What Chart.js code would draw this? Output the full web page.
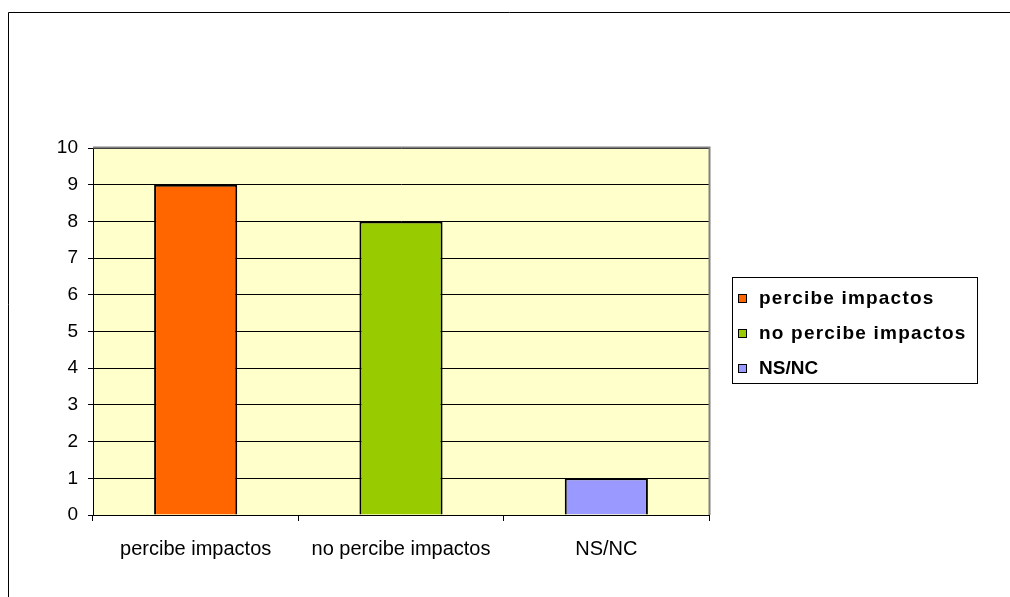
<!DOCTYPE html>
<html>
<head>
<meta charset="utf-8">
<script src="https://cdn.jsdelivr.net/npm/chart.js@4/dist/chart.umd.min.js"></script>
<style>
  html, body { margin: 0; padding: 0; background: #fff; }
  #wrap { width: 1010px; height: 597px; position: relative; }
</style>
</head>
<body>
<div id="wrap"><canvas id="chart" width="1010" height="597"></canvas></div>
<script>
// datos del gráfico
const categories = ['percibe impactos', 'no percibe impactos', 'NS/NC'];
const values = [9, 8, 1];
const barColors = ['#FF6600', '#99CC00', '#9999FF'];
const yTicks = [0, 1, 2, 3, 4, 5, 6, 7, 8, 9, 10];

// fondo amarillo y marcos
const frame = {
  id: 'frame',
  beforeDraw(chart) {
    const { ctx, chartArea: a } = chart;
    ctx.save();
    ctx.fillStyle = '#FFFFCC';
    ctx.fillRect(a.left, a.top, a.right - a.left, a.bottom - a.top);
    // borde exterior (solo arriba e izquierda se ven)
    ctx.strokeStyle = '#000';
    ctx.lineWidth = 1;
    ctx.beginPath();
    ctx.moveTo(8.5, 597);
    ctx.lineTo(8.5, 12.5);
    ctx.lineTo(1010, 12.5);
    ctx.stroke();
    ctx.restore();
  },
  afterDatasetsDraw(chart) {
    const { ctx, chartArea: a } = chart;
    ctx.save();
    ctx.strokeStyle = '#808080';
    ctx.lineWidth = 2;
    ctx.beginPath();
    ctx.moveTo(a.left, a.top - 0.5);
    ctx.lineTo(a.right + 0.5, a.top - 0.5);
    ctx.lineTo(a.right + 0.5, a.bottom);
    ctx.stroke();
    ctx.restore();
  }
};

// leyenda con caja
const legendBox = {
  id: 'legendBox',
  afterDraw(chart) {
    const { ctx } = chart;
    ctx.save();
    ctx.strokeStyle = '#000';
    ctx.lineWidth = 1;
    ctx.strokeRect(732.5, 277.5, 245, 106);
    const rows = [298, 333, 368];
    ctx.font = 'bold 19px "Liberation Sans", Arial, sans-serif';
    ctx.textBaseline = 'middle';
    categories.forEach((c, i) => {
      ctx.fillStyle = barColors[i];
      ctx.fillRect(738, rows[i] - 4, 9, 9);
      ctx.strokeRect(738.5, rows[i] - 3.5, 8, 8);
      ctx.fillStyle = '#000';
      ctx.letterSpacing = c === 'NS/NC' ? '0px' : '1.2px';
      ctx.fillText(c, 759, rows[i] + 1);
    });
    ctx.restore();
  }
};

new Chart(document.getElementById('chart'), {
  type: 'bar',
  data: {
    labels: categories,
    datasets: [{
      data: values,
      backgroundColor: barColors,
      borderColor: '#000',
      borderWidth: 2,
      barPercentage: 0.405,
      categoryPercentage: 1
    }]
  },
  options: {
    responsive: false,
    animation: false,
    layout: { padding: { left: 0, right: 301, top: 148, bottom: 0 } },
    plugins: { legend: { display: false }, tooltip: { enabled: false } },
    scales: {
      x: {
        afterFit: s => { s.height = 82; },
        grid: { offset: true, drawOnChartArea: false, color: '#000', tickLength: 6 },
        border: { color: '#000' },
        ticks: { color: '#000', padding: 16, font: { family: '"Liberation Sans", Arial', size: 20 } }
      },
      y: {
        min: 0, max: 10,
        afterFit: s => { s.width = 93; },
        afterBuildTicks: s => { s.ticks = yTicks.map(v => ({ value: v })); },
        grid: { color: '#000', tickLength: 5 },
        border: { color: '#000' },
        ticks: { color: '#000', padding: 10, font: { family: '"Liberation Sans", Arial', size: 19 } }
      }
    }
  },
  plugins: [frame, legendBox]
});
</script>
</body>
</html>
